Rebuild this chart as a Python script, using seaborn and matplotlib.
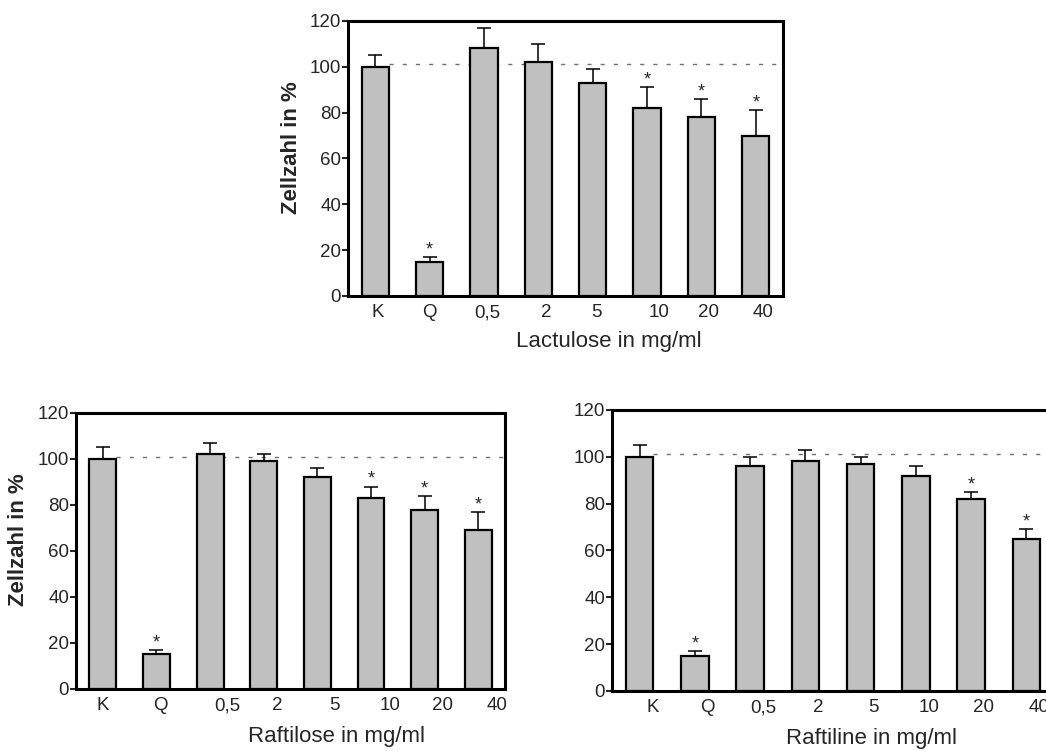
import numpy as np
import pandas as pd
import matplotlib
matplotlib.use("Agg")
import matplotlib.pyplot as plt
import seaborn as sns

# --- data ---------------------------------------------------------------
concentrations = ["K", "Q", "0,5", "2", "5", "10", "20", "40"]

lactulose_mean = [100, 15, 108, 102, 93, 82, 78, 70]
lactulose_err = [5, 2, 9, 8, 6, 9, 8, 11]
lactulose_sig = [False, True, False, False, False, True, True, True]

raftilose_mean = [100, 15, 102, 99, 92, 83, 78, 69]
raftilose_err = [5, 2, 5, 3, 4, 5, 6, 8]
raftilose_sig = [False, True, False, False, False, True, True, True]

raftiline_mean = [100, 15, 96, 98, 97, 92, 82, 65]
raftiline_err = [5, 2, 4, 5, 3, 4, 3, 4]
raftiline_sig = [False, True, False, False, False, False, True, True]

reference_level = 101
y_ticks = [0, 20, 40, 60, 80, 100, 120]

sns.set_style("white")
plt.rcParams["font.family"] = ["Liberation Sans", "DejaVu Sans"]

BAR_GREY = "#c0c0c0"


def draw_panel(ax, means, errs, sig, xlabel, ylabel, xlabel_pos, label_shift):
    df = pd.DataFrame({"conc": concentrations, "value": means})
    sns.barplot(data=df, x="conc", y="value", order=concentrations, color=BAR_GREY,
                saturation=1, edgecolor="black", linewidth=1.6, width=0.5,
                errorbar=None, ax=ax, zorder=3)
    xs = np.arange(len(concentrations))
    ax.errorbar(xs, means, yerr=[np.zeros(len(errs)), errs], fmt="none",
                ecolor="black", elinewidth=1.1, capsize=5, capthick=1.1, zorder=2)
    tops = np.array(means) + np.array(errs)
    for x, t, s in zip(xs, tops, sig):
        if s:
            ax.annotate("*", (x, t), xytext=(0, 2), textcoords="offset points",
                        ha="center", va="baseline", fontsize=13)

    ax.set_xlim(-0.5, len(concentrations) - 0.5)
    ax.hlines(reference_level, 0.25, len(concentrations) - 0.5, colors="#707070",
              linestyles=(0, (3, 6.5)), linewidth=1.0, zorder=1)
    ax.set_ylim(0, 120)
    ax.set_yticks(y_ticks)
    ax.tick_params(axis="y", length=4, width=1.5, direction="out", pad=1,
                   labelsize=13.5, left=True)
    ax.tick_params(axis="x", length=0, pad=6, labelsize=13.5)
    ax.set_xticks(xs + np.array(label_shift))
    ax.set_xticklabels(concentrations)

    for sp in ax.spines.values():
        sp.set_linewidth(2.2)
        sp.set_color("black")

    ax.set_xlabel(xlabel, fontsize=16)
    ax.xaxis.set_label_coords(*xlabel_pos)
    if ylabel:
        ax.set_ylabel(ylabel, fontsize=16, fontweight="bold")
    else:
        ax.set_ylabel("")


fig = plt.figure(figsize=(10.46, 7.51), dpi=100)

ax_top = fig.add_axes([0.3327, 0.6059, 0.4159, 0.3662])
draw_panel(ax_top, lactulose_mean, lactulose_err, lactulose_sig,
           "Lactulose in mg/ml", "Zellzahl in %", (0.600, -0.128),
           [0.04, 0, 0.06, 0.15, 0.07, 0.22, 0.13, 0.13])
ax_top.yaxis.set_label_coords(-0.106, 0.54)

ax_bl = fig.add_axes([0.0727, 0.0826, 0.4101, 0.3675])
draw_panel(ax_bl, raftilose_mean, raftilose_err, raftilose_sig,
           "Raftilose in mg/ml", "Zellzahl in %", (0.608, -0.135),
           [0, 0.07, 0.32, 0.26, 0.32, 0.35, 0.34, 0.35])
ax_bl.yaxis.set_label_coords(-0.11, 0.54)

ax_br = fig.add_axes([0.5851, 0.0799, 0.4226, 0.3742])
draw_panel(ax_br, raftiline_mean, raftiline_err, raftiline_sig,
           "Raftiline in mg/ml", None, (0.586, -0.13),
           [0.23] * 8)

fig.savefig("out.png", dpi=100)
